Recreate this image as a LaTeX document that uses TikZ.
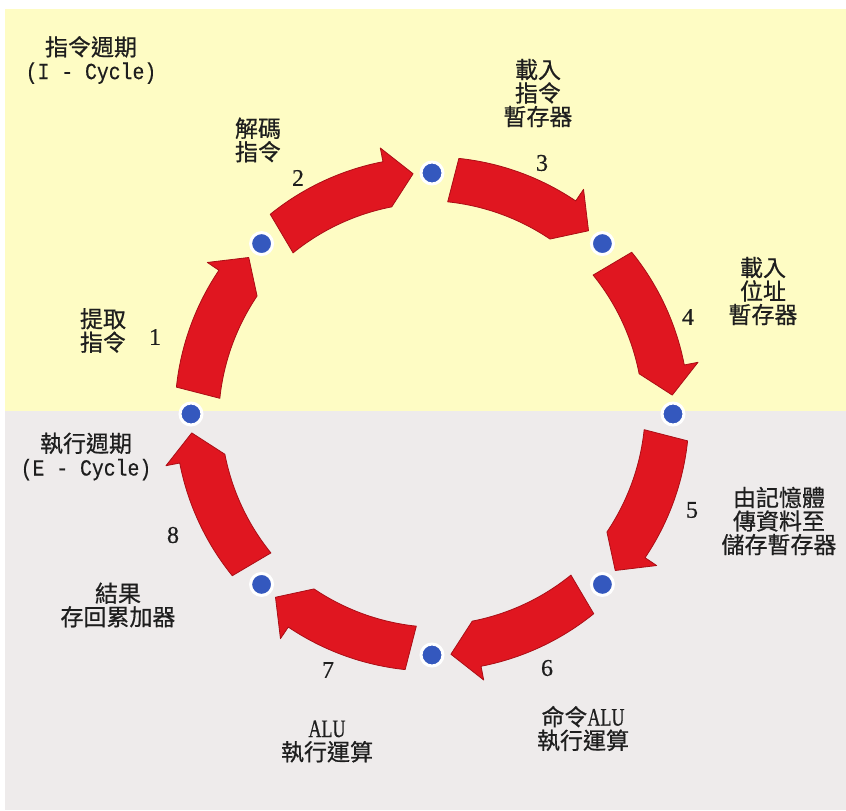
\documentclass[tikz,border=0pt]{standalone}
\usepackage{fontspec}
\usetikzlibrary{calc}
\newfontfamily\cjk[BoldFont={Noto Sans CJK TC}, BoldFeatures={FakeBold=0.6}]{Noto Sans CJK TC}
\newfontfamily\numf[BoldFont={Liberation Serif}, BoldFeatures={FakeBold=0.5}]{Liberation Serif}
\newfontfamily\latc[FakeStretch=0.72, BoldFont={Liberation Serif}, BoldFeatures={FakeStretch=0.72, FakeBold=0.5}]{Liberation Serif}
\newfontfamily\monof[FakeStretch=0.86, BoldFont={Liberation Mono}, BoldFeatures={FakeStretch=0.86, FakeBold=0.4}]{Liberation Mono}
\definecolor{bgyellow}{RGB}{254,252,196}
\definecolor{bggrey}{RGB}{238,235,235}
\definecolor{arrowred}{RGB}{224,22,32}
\definecolor{arrowedge}{RGB}{170,14,22}
\definecolor{dotblue}{RGB}{52,88,190}
\definecolor{txt}{RGB}{30,30,30}
\begin{document}
\begin{tikzpicture}[x=1pt,y=1pt,
  lbl/.style={align=center, inner sep=0pt, text=txt, font=\fontsize{23}{23.5}\selectfont\cjk\bfseries},
  num/.style={inner sep=0pt, text=txt, font=\fontsize{24}{24}\selectfont\numf\bfseries},
  dot/.style={circle, fill=dotblue, draw=white, line width=3pt, minimum size=22pt, inner sep=0pt},
  cycarrow/.style={fill=arrowred, draw=arrowedge, line width=0.8pt, line join=round}]
\useasboundingbox (0,0) rectangle (846,811);
\fill[white] (0,0) rectangle (846,811);
\fill[bgyellow] (5,400) rectangle (846,802);
\fill[bggrey] (5,1) rectangle (846,400);

\coordinate (c) at (432,397);

% arrows
\begin{scope}[shift={(c)}]
\foreach \i in {1,...,8}{
  \pgfmathsetmacro{\a}{225-45*\i}
  \pgfmathsetmacro{\s}{\a-6}
  \pgfmathsetmacro{\b}{\a-34}
  \pgfmathsetmacro{\t}{\a-40.5}
  \path[cycarrow] (\s:257pt) arc[start angle=\s, end angle=\b, radius=257pt]
     -- (\b:271pt) -- (\t:241pt) -- (\b:211pt)
     arc[start angle=\b, end angle=\s, radius=225pt] -- cycle;
}
\end{scope}

% dots
\node[dot] (d1) at ($(c)+(180:241)$) {};
\node[dot] (d2) at ($(c)+(135:241)$) {};
\node[dot] (d3) at ($(c)+(90:241)$) {};
\node[dot] (d4) at ($(c)+(45:241)$) {};
\node[dot] (d5) at ($(c)+(0:241)$) {};
\node[dot] (d6) at ($(c)+(-45:241)$) {};
\node[dot] (d7) at ($(c)+(-90:241)$) {};
\node[dot] (d8) at ($(c)+(-135:241)$) {};

% labels
\node[lbl] (icyc) at (91,751) {指令週期\\{\monof\bfseries (I - Cycle)}};
\node[lbl] (ecyc) at (86,354.5) {執行週期\\{\monof\bfseries (E - Cycle)}};
\node[lbl] (l1) at (103,480.5) {提取\\指令};
\node[lbl] (l2) at (258,671) {解碼\\指令};
\node[lbl] (l3) at (538,718) {載入\\指令\\暫存器};
\node[lbl] (l4) at (763,520) {載入\\位址\\暫存器};
\node[lbl] (l5) at (779,290) {由記憶體\\傳資料至\\儲存暫存器};
\node[lbl] (l6) at (583,82.5) {命令{\fontsize{25}{23.5}\selectfont\latc\bfseries ALU}\\執行運算};
\node[lbl] (l7) at (327,69.5) {{\fontsize{25}{23.5}\selectfont\latc\bfseries ALU}\\執行運算};
\node[lbl] (l8) at (118,206) {結果\\存回累加器};

\node[num] (n1) at (155,474) {1};
\node[num] (n2) at (298,633) {2};
\node[num] (n3) at (542,648) {3};
\node[num] (n4) at (688,494) {4};
\node[num] (n5) at (692,301) {5};
\node[num] (n6) at (547,143) {6};
\node[num] (n7) at (328,141) {7};
\node[num] (n8) at (173,276) {8};
\end{tikzpicture}
\end{document}
